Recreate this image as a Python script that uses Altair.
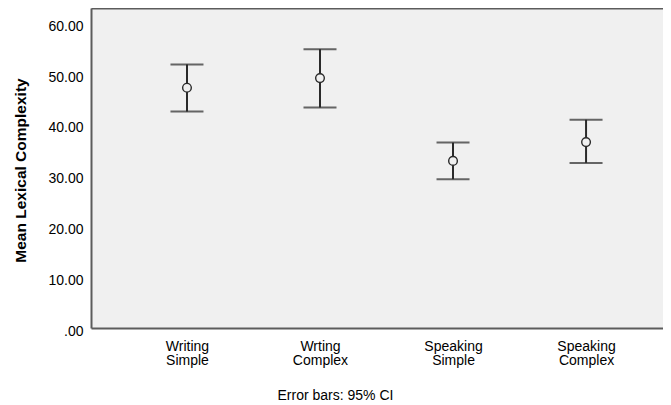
import altair as alt
import pandas as pd

categories = ["Writing\nSimple", "Wrting\nComplex", "Speaking\nSimple", "Speaking\nComplex"]
means = [47.3, 49.2, 32.9, 36.6]
lower = [42.6, 43.4, 29.3, 32.5]
upper = [51.9, 54.9, 36.5, 41.0]
y_ticks = [0, 10, 20, 30, 40, 50, 60]

df = pd.DataFrame({"cat": categories, "mean": means, "lo": lower, "hi": upper})

FONT = "Liberation Sans"
INK = "#2a2a2a"
BORDER = "#5c5c5c"

xscale = alt.Scale(type="point", domain=categories, padding=0.65, align=0.555)
yscale = alt.Scale(domain=[0, 63], nice=False, zero=True)

x_bottom = alt.X(
    "cat:N", scale=xscale, sort=categories,
    axis=alt.Axis(
        title="Error bars: 95% CI", titleFont=FONT, titleFontSize=14, titleFontWeight="normal",
        titleColor="#000000", titleX=244, titleY=67, titleAlign="center", titleBaseline="middle",
        labelFont=FONT, labelFontSize=14, labelColor="#000000", labelAngle=0,
        labelExpr="split(datum.label, '\\n')", labelLineHeight=14, labelBaseline="top",
        labelPadding=11, ticks=False, domain=True, domainColor=BORDER, domainWidth=2,
        grid=False, orient="bottom",
    ),
)

y_ax = alt.Axis(
    values=y_ticks, title="Mean Lexical Complexity", titleFont=FONT, titleFontSize=15.5,
    titleFontWeight="bold", titleColor="#000000", titleX=-71, titleY=162,
    titleAlign="center", titleBaseline="middle", titleAngle=-90,
    labelFont=FONT, labelFontSize=14, labelColor="#000000", labelPadding=8,
    labelOffset=3,
    labelExpr="datum.value == 0 ? '.00' : format(datum.value, '.2f')",
    ticks=False, domain=True, domainColor=BORDER, domainWidth=2, grid=False,
)

bars = alt.Chart(df).mark_rule(color=INK, strokeWidth=2).encode(
    x=x_bottom,
    y=alt.Y("lo:Q", scale=yscale, axis=y_ax),
    y2="hi:Q",
)

caps_lo = alt.Chart(df).mark_tick(color=INK, thickness=2, size=33, orient="horizontal").encode(
    x=alt.X("cat:N", scale=xscale, sort=categories, axis=None),
    y=alt.Y("lo:Q", scale=yscale, axis=y_ax),
)
caps_hi = alt.Chart(df).mark_tick(color=INK, thickness=2, size=33, orient="horizontal").encode(
    x=alt.X("cat:N", scale=xscale, sort=categories, axis=None),
    y=alt.Y("hi:Q", scale=yscale, axis=y_ax),
)

points = alt.Chart(df).mark_point(
    shape="circle", size=75, filled=True, fill="#f0f0f0", stroke=INK, strokeWidth=1.4, opacity=1
).encode(
    x=alt.X("cat:N", scale=xscale, sort=categories,
            axis=alt.Axis(orient="top", labels=False, ticks=False, title=None, domain=True,
                          domainColor=BORDER, domainWidth=2, grid=False)),
    y=alt.Y("mean:Q", scale=yscale, axis=y_ax),
)

chart = alt.layer(bars, caps_lo, caps_hi, points).resolve_axis(x="independent").properties(
    width=572, height=320,
    autosize=alt.AutoSizeParams(type="none"),
    padding={"left": 83, "top": 0, "right": 0, "bottom": 75},
    background="#ffffff",
).configure_view(stroke=None, fill="#f0f0f0")

chart.save("out.html", embed_options={"renderer": "svg", "actions": False})
